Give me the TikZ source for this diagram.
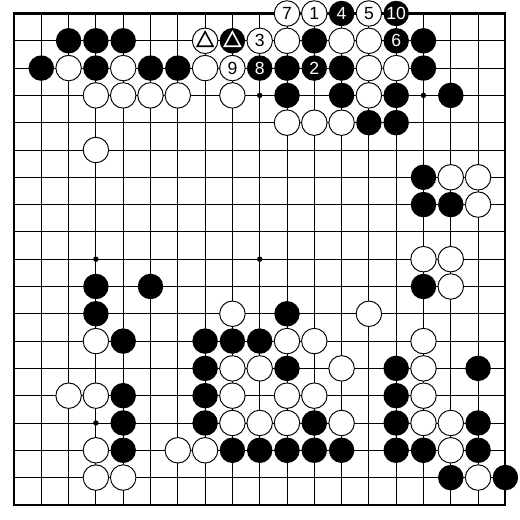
\documentclass[tikz,border=0pt]{standalone}
\usepackage{fontspec}
\setsansfont{Liberation Sans}

\tikzset{
  linea/.style={line width=0.6pt},
  borde/.style={line width=1.3pt},
  negra/.style={circle,fill=black,minimum size=5.6mm,inner sep=0pt,
    text=white,font=\sffamily\fontsize{11}{11}\selectfont},
  blanca/.style={circle,fill=white,draw=black,line width=0.6pt,minimum size=5.6mm,inner sep=0pt,
    text=black,font=\sffamily\fontsize{11}{11}\selectfont},
  marca/.style={line width=1pt,line join=miter}
}

\begin{document}
\begin{tikzpicture}[x=6mm,y=6mm]
        % Fija el tamaño del dibujo
        \useasboundingbox[fill=white] (-0.513,0.494) rectangle (18.535,-18.554);

        % Dibuja las líneas del tablero
        \foreach \i in {1,...,17}{
            \draw[linea] (\i,0) -- (\i,-18);
            \draw[linea] (0,-\i) -- (18,-\i);
        }
        \draw[borde] (0,0) rectangle (18,-18);

        % Dibuja los puntos de estrella
        \foreach \x/\y in {3/3,9/3,15/3,3/9,9/9,15/9,3/15,9/15,15/15}
            \fill (\x,-\y) circle (0.1);

        % Piedras negras
        \foreach \c/\r in {2/1,3/1,4/1,11/1,15/1,
                           1/2,3/2,5/2,6/2,10/2,12/2,15/2,
                           10/3,12/3,14/3,16/3,13/4,14/4,
                           15/6,15/7,16/7,3/10,5/10,15/10,3/11,10/11,
                           4/12,7/12,8/12,9/12,7/13,10/13,14/13,17/13,
                           4/14,7/14,14/14,4/15,7/15,11/15,14/15,17/15,
                           4/16,8/16,9/16,10/16,11/16,12/16,14/16,15/16,17/16,
                           16/17,18/17}
            \node[negra] (n-\c-\r) at (\c,-\r) {};

        % Piedras blancas
        \foreach \c/\r in {10/1,12/1,13/1,
                           2/2,4/2,7/2,13/2,14/2,
                           3/3,4/3,5/3,6/3,8/3,13/3,10/4,11/4,12/4,
                           3/5,16/6,17/6,17/7,15/9,16/9,16/10,8/11,13/11,
                           3/12,10/12,11/12,15/12,8/13,9/13,12/13,15/13,
                           2/14,3/14,8/14,10/14,11/14,15/14,
                           8/15,9/15,10/15,12/15,15/15,16/15,
                           3/16,6/16,7/16,16/16,3/17,4/17,17/17}
            \node[blanca] (b-\c-\r) at (\c,-\r) {};

        % Piedras numeradas
        \node[blanca] (jug1) at (11,0) {1};
        \node[negra] (jug2) at (11,-2) {2};
        \node[blanca] (jug3) at (9,-1) {3};
        \node[negra] (jug4) at (12,0) {4};
        \node[blanca] (jug5) at (13,0) {5};
        \node[negra] (jug6) at (14,-1) {6};
        \node[blanca] (jug7) at (10,0) {7};
        \node[negra] (jug8) at (9,-2) {8};
        \node[blanca] (jug9) at (8,-2) {9};
        \node[negra] (jug10) at (14,0) {10};

        % Piedras marcadas con triángulo
        \node[blanca] (triblanca) at (7,-1) {};
        \node[negra] (trinegra) at (8,-1) {};
        \draw[marca] ([shift={(0,0.33)}]triblanca.center) -- ([shift={(-0.29,-0.2)}]triblanca.center)
            -- ([shift={(0.29,-0.2)}]triblanca.center) -- cycle;
        \draw[marca,white] ([shift={(0,0.33)}]trinegra.center) -- ([shift={(-0.29,-0.2)}]trinegra.center)
            -- ([shift={(0.29,-0.2)}]trinegra.center) -- cycle;
    \end{tikzpicture}
\end{document}
